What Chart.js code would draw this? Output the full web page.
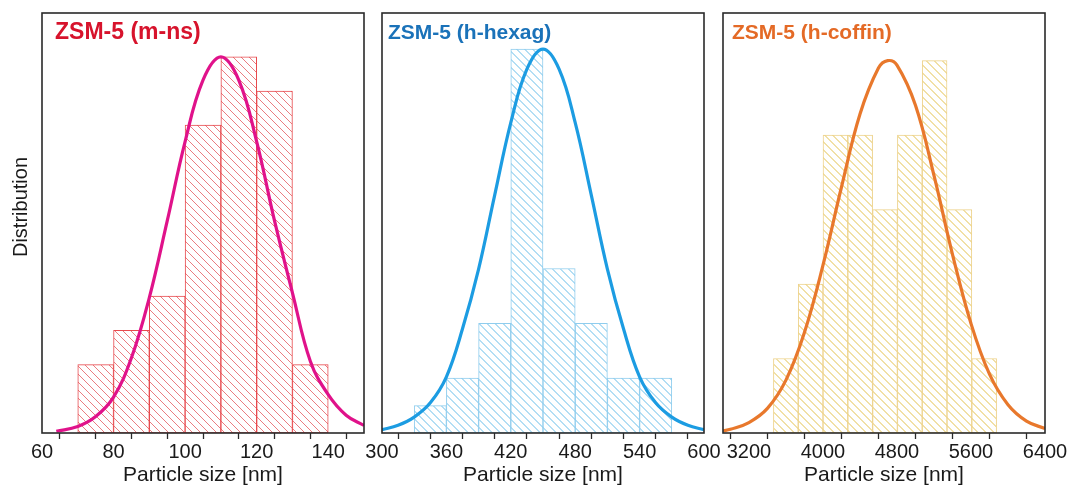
<!DOCTYPE html>
<html>
<head>
<meta charset="utf-8">
<title>Particle size distribution</title>
<script src="https://cdn.jsdelivr.net/npm/chart.js@4"></script>
<style>
  html, body { margin: 0; padding: 0; background: #fff; }
  #wrap { position: relative; width: 1071px; height: 493px; overflow: hidden; }
  #wrap canvas { position: absolute; top: 0; }
</style>
</head>
<body>
<div id="wrap">
  <canvas id="c1" width="380" height="493" style="left:0"></canvas>
  <canvas id="c2" width="370" height="493" style="left:355px"></canvas>
  <canvas id="c3" width="366" height="493" style="left:705px"></canvas>
</div>
<script>
// ZSM-5 (m-ns)
const binCenters1 = [75, 85, 95, 105, 115, 125, 135];
const counts1 = [2, 3, 4, 9, 11, 10, 2];
const fitX1 = [64, 70, 75, 80, 85, 90, 95, 100, 105, 110, 115, 120, 125, 130, 135, 140, 145, 150];
const fitY1 = [0.05, 0.19, 0.48, 1.05, 2.2, 3.96, 6.2, 8.52, 10.32, 11, 10.32, 8.52, 6.2, 4.1, 2.1, 1.12, 0.52, 0.22];
const ticks1 = [60, 70, 80, 90, 100, 110, 120, 130, 140, 150];
const labels1 = [60, 80, 100, 120, 140];

// ZSM-5 (h-hexag)
const binCenters2 = [345, 375, 405, 435, 465, 495, 525, 555];
const counts2 = [1, 2, 4, 14, 6, 4, 2, 2];
const fitX2 = [300, 315, 330, 345, 360, 375, 390, 405, 420, 435, 450, 465, 480, 495, 510, 525, 540, 555, 570, 585, 600];
const fitY2 = [0.12, 0.28, 0.58, 1.1, 2.05, 3.8, 5.98, 8.68, 11.32, 13.27, 14, 13.27, 11.32, 8.68, 5.98, 3.8, 2.05, 1.1, 0.58, 0.28, 0.12];
const ticks2 = [300, 330, 360, 390, 420, 450, 480, 510, 540, 570, 600];
const labels2 = [300, 360, 420, 480, 540, 600];

// ZSM-5 (h-coffin)
const binCenters3 = [3599, 3867, 4135, 4403, 4671, 4939, 5207, 5475, 5743];
const counts3 = [1, 2, 4, 4, 3, 4, 5, 3, 1];
const fitX3 = [2920, 3000, 3200, 3400, 3600, 3800, 4000, 4200, 4400, 4600, 4700, 4800, 5000, 5200, 5400, 5600, 5800, 6000, 6200, 6400];
const fitY3 = [0.03, 0.05, 0.14, 0.33, 0.71, 1.35, 2.25, 3.3, 4.28, 4.9, 5.0, 4.94, 4.4, 3.46, 2.4, 1.47, 0.79, 0.38, 0.16, 0.06];
const ticks3 = [3200, 3600, 4000, 4400, 4800, 5200, 5600, 6000, 6400];
const labels3 = [3200, 4000, 4800, 5600, 6400];

const FONT = '"Liberation Sans", Arial, sans-serif';

// "\" hatching built from whole pixels so the colour stays clean
const makeHatch = (ctx, color, size, weight) => {
  const tile = document.createElement("canvas");
  tile.width = size;
  tile.height = size;
  const g = tile.getContext("2d");
  g.fillStyle = "#ffffff";
  g.fillRect(0, 0, size, size);
  g.fillStyle = color;
  for (let i = 0; i < size; i++) {
    for (let w = 0; w < weight; w++) g.fillRect((i + w) % size, i, 1, 1);
  }
  return ctx.createPattern(tile, "repeat");
};

// frame round the plot area, the coloured label in its top-left corner,
// and (first panel only) the shared "Distribution" axis title
const panelDecor = {
  id: "panelDecor",
  afterDatasetsDraw(chart, args, opts) {
    const { ctx, chartArea: a } = chart;
    ctx.save();
    ctx.strokeStyle = "#2a2a2a";
    ctx.lineWidth = 1.6;
    ctx.strokeRect(a.left, a.top, a.right - a.left, a.bottom - a.top);
    ctx.font = `bold ${opts.size}px ${FONT}`;
    ctx.fillStyle = opts.color;
    ctx.textBaseline = "middle";
    ctx.fillText(opts.text, a.left + opts.dx, a.top + 20);
    if (opts.yTitle) {
      ctx.translate(a.left - 21, a.top + 194);
      ctx.rotate(-Math.PI / 2);
      ctx.font = `20px ${FONT}`;
      ctx.fillStyle = "#1a1a1a";
      ctx.textAlign = "center";
      ctx.fillText(opts.yTitle, 0, 0);
    }
    ctx.restore();
  }
};

const makePanel = (p) => {
  const canvas = document.getElementById(p.id);
  const ctx = canvas.getContext("2d");
  return new Chart(ctx, {
    type: "bar",
    data: {
      datasets: [
        {
          type: "line",
          data: p.fitX.map((x, i) => ({ x, y: p.fitY[i] })),
          borderColor: p.curve,
          borderWidth: 3.2,
          pointRadius: 0,
          tension: 0.4,
          fill: false,
          order: 1
        },
        {
          type: "bar",
          data: p.centers.map((x, i) => ({ x, y: p.counts[i] })),
          backgroundColor: makeHatch(ctx, p.hatch, 8, p.hatchWeight),
          borderColor: p.edge,
          borderWidth: 1,
          borderSkipped: false,
          barPercentage: 1,
          categoryPercentage: 1,
          order: 2
        }
      ]
    },
    options: {
      responsive: false,
      animation: false,
      layout: { padding: { top: 13, bottom: 0, left: p.padLeft, right: p.padRight } },
      plugins: {
        legend: { display: false },
        tooltip: { enabled: false },
        panelDecor: {
          text: p.title, color: p.titleColor, size: p.titleSize, dx: p.titleDx,
          yTitle: p.yTitle
        }
      },
      scales: {
        x: {
          type: "linear",
          min: p.xMin,
          max: p.xMax,
          offset: false,
          afterBuildTicks: (scale) => {
            scale.ticks = p.ticks.map((value) => ({ value }));
          },
          afterFit: (scale) => {
            scale.height = 60;
          },
          ticks: {
            autoSkip: false,
            maxRotation: 0,
            padding: 1,
            color: "#1a1a1a",
            font: { family: FONT, size: 20 },
            callback: (v) => (p.labels.includes(v) ? String(v) : "")
          },
          grid: {
            drawOnChartArea: false,
            drawTicks: true,
            tickLength: 6,
            tickColor: "#2a2a2a",
            tickWidth: 1.3
          },
          border: { display: false },
          title: {
            display: true,
            text: "Particle size [nm]",
            color: "#1a1a1a",
            font: { family: FONT, size: 21 },
            padding: { top: 0, bottom: 5 }
          }
        },
        y: {
          min: 0,
          max: p.yMax,
          display: false
        }
      }
    },
    plugins: [panelDecor]
  });
};

makePanel({
  id: "c1", centers: binCenters1, counts: counts1, fitX: fitX1, fitY: fitY1,
  ticks: ticks1, labels: labels1, xMin: 60, xMax: 150, yMax: 12.28,
  padLeft: 42, padRight: 16, yTitle: "Distribution",
  hatch: "#ea7d80", hatchWeight: 1, edge: "#e84a4e", curve: "#e0128a",
  title: "ZSM-5 (m-ns)", titleColor: "#d7132c", titleSize: 23, titleDx: 13
});

makePanel({
  id: "c2", centers: binCenters2, counts: counts2, fitX: fitX2, fitY: fitY2,
  ticks: ticks2, labels: labels2, xMin: 300, xMax: 600, yMax: 15.32,
  padLeft: 27, padRight: 21,
  hatch: "#b3def4", hatchWeight: 2, edge: "#8fcdee", curve: "#1c9ce2",
  title: "ZSM-5 (h-hexag)", titleColor: "#1a72b9", titleSize: 21, titleDx: 6
});

makePanel({
  id: "c3", centers: binCenters3, counts: counts3, fitX: fitX3, fitY: fitY3,
  ticks: ticks3, labels: labels3, xMin: 2920, xMax: 6400, yMax: 5.64,
  padLeft: 18, padRight: 26,
  hatch: "#f1e0a6", hatchWeight: 2, edge: "#eed38c", curve: "#e8782c",
  title: "ZSM-5 (h-coffin)", titleColor: "#e46a26", titleSize: 21, titleDx: 9
});
</script>
</body>
</html>
